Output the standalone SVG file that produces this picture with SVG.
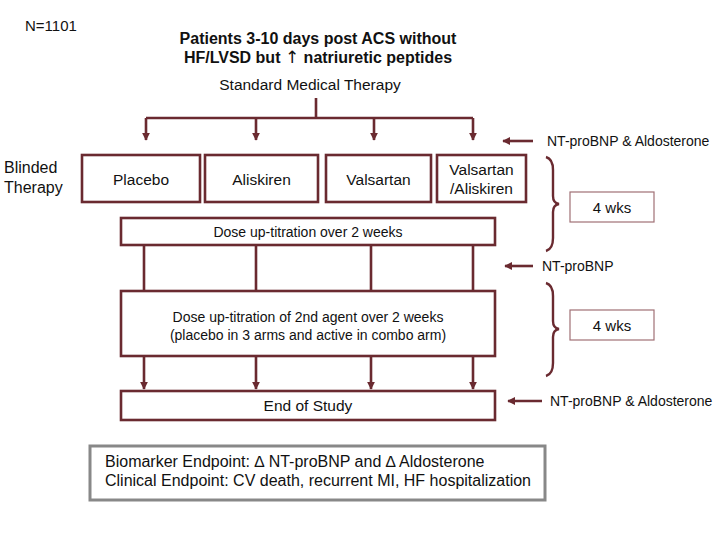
<svg xmlns="http://www.w3.org/2000/svg" width="720" height="540" viewBox="0 0 720 540">
<defs>
<marker id="ah" viewBox="0 0 10 10" refX="9" refY="5" markerWidth="3" markerHeight="3" orient="auto">
<path d="M0,0 L10,5 L0,10 z" fill="#6a2a30"/>
</marker>
<style>
text{font-family:"Liberation Sans",Arial,sans-serif;fill:#111}
.box{fill:#fff;stroke:#6a2a30;stroke-width:2.6}
.wk{fill:#fff;stroke:#a07075;stroke-width:1.2}
.ln{fill:none;stroke:#6a2a30;stroke-width:2.6}
.arr{fill:none;stroke:#6a2a30;stroke-width:2.6;marker-end:url(#ah)}
.br{fill:none;stroke:#6a2a30;stroke-width:2.4}
.c{text-anchor:middle}
</style>
</defs>
<rect width="720" height="540" fill="#fff"/>
<text x="25" y="31" font-size="15">N=1101</text>
<text x="318" y="44" font-size="16" font-weight="bold" class="c">Patients 3-10 days post ACS without</text>
<text x="318" y="63" font-size="16" font-weight="bold" class="c">HF/LVSD but <tspan font-family="'DejaVu Sans',sans-serif" font-weight="normal" font-size="17">↑</tspan> natriuretic peptides</text>
<text x="310" y="90" font-size="15.5" class="c">Standard Medical Therapy</text>
<text x="4" y="173" font-size="16">Blinded</text>
<text x="4" y="193" font-size="16">Therapy</text>

<g id="connectors">
<path class="ln" d="M316,98 V118 M146,118 H473"/>
<path class="arr" d="M146,118 V140"/>
<path class="arr" d="M256,118 V140"/>
<path class="arr" d="M374,118 V140"/>
<path class="arr" d="M473,118 V140"/>
<path class="ln" d="M144,245 V291 M256,245 V291 M371,245 V291 M473,245 V291"/>
<path class="arr" d="M144,356 V389"/>
<path class="arr" d="M256,356 V389"/>
<path class="arr" d="M371,356 V389"/>
<path class="arr" d="M473,356 V389"/>
<path class="arr" d="M533,141 H503"/>
<path class="arr" d="M533,266 H505"/>
<path class="arr" d="M542,401 H508"/>
<path class="br" d="M546,157 Q553,159 553,170 V196 Q553,203 559,204 Q553,205 553,212 V238 Q553,249 546,251"/>
<path class="br" d="M546,283 Q553,285 553,296 V321 Q553,328 559,329 Q553,330 553,337 V363 Q553,374 546,376"/>
</g>

<g id="placebo"><rect class="box" x="82" y="155" width="118" height="47"/><text x="141" y="185" font-size="15.5" class="c">Placebo</text></g>
<g id="aliskiren"><rect class="box" x="205" y="155" width="113" height="47"/><text x="261.5" y="185" font-size="15.5" class="c">Aliskiren</text></g>
<g id="valsartan"><rect class="box" x="326" y="155" width="105" height="47"/><text x="378.5" y="185" font-size="15.5" class="c">Valsartan</text></g>
<g id="combo"><rect class="box" x="437" y="155" width="89" height="47"/><text x="481.5" y="175" font-size="15.5" class="c">Valsartan</text><text x="481.5" y="194" font-size="15.5" class="c">/Aliskiren</text></g>
<g id="titration1"><rect class="box" x="121" y="218" width="374" height="27"/><text x="308" y="237" font-size="14" class="c">Dose up-titration over 2 weeks</text></g>
<g id="titration2"><rect class="box" x="121" y="291" width="374" height="65"/><text x="308" y="322" font-size="14" class="c">Dose up-titration of 2nd agent over 2 weeks</text><text x="308" y="340" font-size="14" class="c">(placebo in 3 arms and active in combo arm)</text></g>
<g id="end"><rect class="box" x="121" y="391" width="374" height="29"/><text x="308" y="411" font-size="15.5" class="c">End of Study</text></g>

<g id="m1"><text x="547" y="146" font-size="14">NT-proBNP &amp; Aldosterone</text></g>
<g id="m2"><text x="542" y="271" font-size="14">NT-proBNP</text></g>
<g id="m3"><text x="550" y="406" font-size="14">NT-proBNP &amp; Aldosterone</text></g>
<g id="wks1"><rect class="wk" x="570" y="192" width="84" height="30"/><text x="612" y="213" font-size="15" class="c">4 wks</text></g>
<g id="wks2"><rect class="wk" x="570" y="310" width="84" height="30"/><text x="612" y="331" font-size="15" class="c">4 wks</text></g>

<g id="endpoints"><rect x="90" y="446" width="455" height="54" fill="#fff" stroke="#888" stroke-width="3"/>
<text x="105" y="467" font-size="16">Biomarker Endpoint: ∆ NT-proBNP and ∆ Aldosterone</text>
<text x="105" y="486" font-size="16">Clinical Endpoint: CV death, recurrent MI, HF hospitalization</text></g>
</svg>
